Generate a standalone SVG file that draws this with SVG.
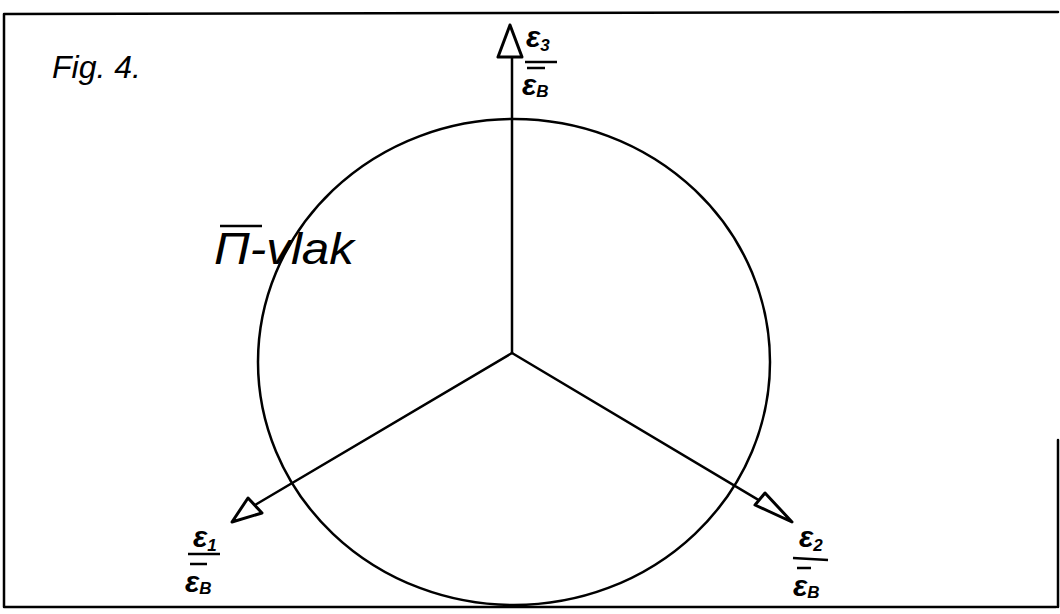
<svg xmlns="http://www.w3.org/2000/svg" width="1060" height="614" viewBox="0 0 1060 614">
<style>
.ln{stroke:#000;stroke-width:2.5;fill:none;stroke-linecap:round}
.ah{stroke:#000;stroke-width:3;fill:#fff;stroke-linejoin:round}
.t{font-family:"Liberation Sans",sans-serif;font-style:italic;fill:#000}
.e{font-size:30px;font-weight:bold}
.s{font-size:17px;font-weight:bold}
.fr{stroke:#000;stroke-width:2.5}
</style>
<rect width="1060" height="614" fill="#fff"/>
<g id="frame"><path class="ln" d="M4 14 L1058 12 M4 14 L4 607 M4 607 L1056 607 M1058 440 L1058 607"/></g>
<g id="title"><text class="t" x="52" y="78" font-size="32">Fig. 4.</text></g>
<g id="circle"><ellipse class="ln" cx="514" cy="362" rx="256" ry="243"/></g>
<g id="plane-label"><text class="t" x="214" y="264" font-size="44" textLength="140" lengthAdjust="spacingAndGlyphs">Π-vlak</text><line class="fr" x1="220" y1="226" x2="262" y2="226"/></g>
<g id="connectors">
<line class="ln" x1="512" y1="353" x2="512" y2="58"/>
<line class="ln" x1="512" y1="353" x2="255" y2="505"/>
<line class="ln" x1="512" y1="353" x2="772" y2="508"/>
<polygon class="ah" points="510,25 498,57 522,57"/>
<polygon class="ah" points="232,522 248,498 262,513"/>
<polygon class="ah" points="792,522 755,505 765,493"/>
</g>
<g id="label-e3"><text class="t e" x="526" y="47">ε<tspan class="s" dy="4">3</tspan></text><line class="fr" x1="525" y1="62" x2="557" y2="62"/><line class="fr" x1="527" y1="68" x2="545" y2="68"/><text class="t e" x="522" y="95">ε<tspan class="s" dy="2">B</tspan></text></g>
<g id="label-e1"><text class="t e" x="193" y="547">ε<tspan class="s" dy="4">1</tspan></text><line class="fr" x1="188" y1="554" x2="220" y2="554"/><line class="fr" x1="190" y1="564" x2="207" y2="564"/><text class="t e" x="185" y="592">ε<tspan class="s" dy="2">B</tspan></text></g>
<g id="label-e2"><text class="t e" x="799" y="547">ε<tspan class="s" dy="4">2</tspan></text><line class="fr" x1="793" y1="558" x2="828" y2="560"/><line class="fr" x1="797" y1="568" x2="811" y2="568"/><text class="t e" x="793" y="596">ε<tspan class="s" dy="2">B</tspan></text></g>
</svg>
